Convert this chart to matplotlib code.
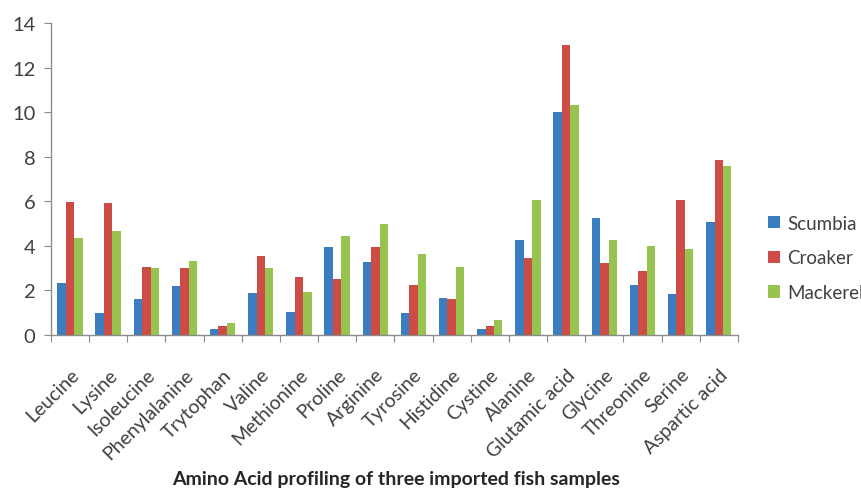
import numpy as np
import matplotlib.pyplot as plt

plt.rcParams['font.family'] = ['Lato', 'DejaVu Sans']

acids = ['Leucine', 'Lysine', 'Isoleucine', 'Phenylalanine', 'Trytophan', 'Valine',
         'Methionine', 'Proline', 'Arginine', 'Tyrosine', 'Histidine', 'Cystine',
         'Alanine', 'Glutamic acid', 'Glycine', 'Threonine', 'Serine', 'Aspartic acid']
scumbia = [2.35, 0.99, 1.63, 2.19, 0.25, 1.87, 1.05, 3.94, 3.26, 0.99, 1.68, 0.28,
           4.24, 9.99, 5.24, 2.23, 1.84, 5.06]
croaker = [5.96, 5.90, 3.04, 2.99, 0.42, 3.56, 2.62, 2.53, 3.94, 2.22, 1.62, 0.42,
           3.47, 12.99, 3.22, 2.87, 6.05, 7.83]
mackerel = [4.34, 4.66, 2.99, 3.34, 0.55, 2.99, 1.92, 4.46, 4.97, 3.61, 3.05, 0.69,
            6.05, 10.30, 4.24, 4.01, 3.85, 7.57]

series = [('Scumbia', scumbia, '#3A7DC0'),
          ('Croaker', croaker, '#CD4C45'),
          ('Mackerel', mackerel, '#97C350')]

fig = plt.figure(figsize=(8.62, 4.89), dpi=100)
ax = fig.add_axes([0.059, 0.313, 0.797, 0.638])

x = np.arange(len(acids))
w = 0.222
for i, (name, vals, col) in enumerate(series):
    ax.bar(x + (i - 1) * w, vals, width=w, color=col, label=name)

ax.set_xlim(-0.5, len(acids) - 0.5)
ax.set_ylim(0, 14)
ax.set_yticks(range(0, 15, 2))
ax.tick_params(axis='y', labelsize=14.5, colors='#8c8c8c', labelcolor='#404040',
               length=5, direction='out', pad=6)

# category ticks sit on the group boundaries, labels at group centres
ax.set_xticks(np.arange(-0.5, len(acids), 1.0))
ax.set_xticklabels([])
ax.set_xticks(x, minor=True)
ax.set_xticklabels(acids, minor=True, rotation=45, ha='right', va='top',
                   rotation_mode='anchor', fontsize=14, color='#404040')
ax.tick_params(axis='x', which='major', length=5, colors='#8c8c8c')
ax.tick_params(axis='x', which='minor', length=0, pad=22)

for s in ['top', 'right']:
    ax.spines[s].set_visible(False)
for s in ['left', 'bottom']:
    ax.spines[s].set_color('#8c8c8c')
    ax.spines[s].set_linewidth(1.0)

ax.legend(loc='center left', bbox_to_anchor=(1.044, 0.247), frameon=False,
          fontsize=13.5, handlelength=0.65, handleheight=0.65, handletextpad=0.35,
          labelspacing=0.95, labelcolor='#404040', borderpad=0, borderaxespad=0)

fig.text(0.46, 0.003, 'Amino Acid profiling of three imported fish samples',
         ha='center', va='bottom', fontsize=14, fontweight='bold', color='#262626')

fig.savefig('out.png', dpi=100)
